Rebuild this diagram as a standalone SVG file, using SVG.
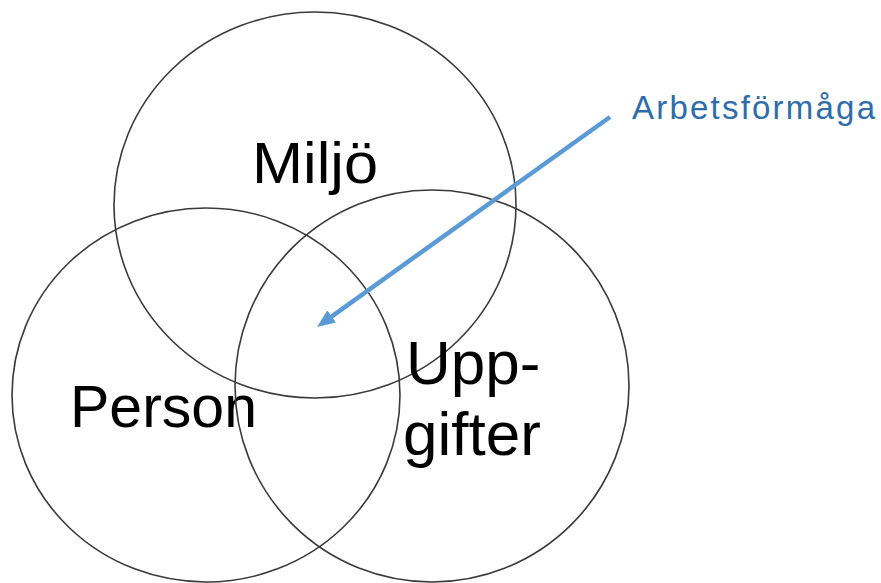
<svg xmlns="http://www.w3.org/2000/svg" width="881" height="583" viewBox="0 0 881 583">
  <style>
    .ring { fill: none; stroke: #3a3a3a; stroke-width: 1.6; }
    .lbl { font-family: "Liberation Sans", Arial, sans-serif; fill: #000; }
    .note { font-family: "Liberation Sans", Arial, sans-serif; fill: #2E6DA9; font-size: 33px; }
    .arrow { stroke: #5B9BD5; stroke-width: 4.5; fill: none; }
  </style>
  <defs>
    <marker id="head" markerUnits="userSpaceOnUse" markerWidth="18" markerHeight="15" viewBox="0 0 18 15" refX="4" refY="7.5" orient="auto">
      <path d="M0,0 L18,7.5 L0,15 z" fill="#5B9BD5"/>
    </marker>
  </defs>
  <rect width="881" height="583" fill="#fff"/>

  <g id="node-miljo">
    <text class="lbl" x="252" y="183" font-size="58" textLength="126" lengthAdjust="spacingAndGlyphs">Miljö</text>
    <ellipse class="ring" cx="315" cy="205" rx="201" ry="193"/>
  </g>
  <g id="node-person">
    <text class="lbl" x="70" y="427" font-size="59">Person</text>
    <ellipse class="ring" cx="206" cy="395" rx="194" ry="187"/>
  </g>
  <g id="node-uppgifter">
    <text class="lbl" x="406" y="384" font-size="62">Upp-</text>
    <text class="lbl" x="403" y="455" font-size="62">gifter</text>
    <ellipse class="ring" cx="432" cy="386" rx="197" ry="196"/>
  </g>
  <g id="node-arbetsformaga">
    <text class="note" x="632" y="119" textLength="243" lengthAdjust="spacing">Arbetsförmåga</text>
  </g>

  <g id="connectors">
    <line class="arrow" x1="610" y1="117" x2="328.4" y2="318.8" marker-end="url(#head)"/>
  </g>
</svg>
